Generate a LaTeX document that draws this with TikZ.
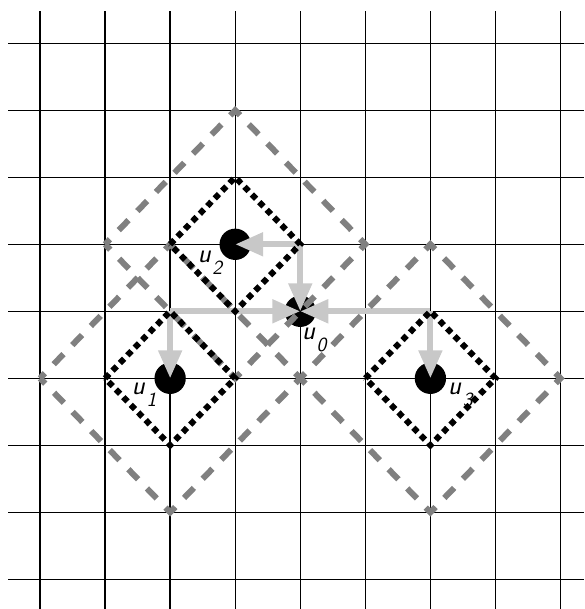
\documentclass[tikz,border=0pt]{standalone}
\usepackage{fontspec}
\usetikzlibrary{arrows.meta, positioning, calc}
\usepackage{xcolor}

\definecolor{arrowgray}{RGB}{200,200,200}
\definecolor{dashgray}{RGB}{128,128,128}

\newcommand{\ulbl}[1]{\textsl{u}\hspace{1pt}\raisebox{-9pt}{\fontsize{15}{15}\selectfont\slshape #1}}

\begin{document}
\begin{tikzpicture}[
  x=48.8pt, y=50.25pt,
  gridline/.style={black, line width=1pt},
  site/.style={circle, fill=black, minimum size=23.5pt, inner sep=0pt},
  push/.style={draw=arrowgray, line width=4.5pt,
    -{Triangle[length=21pt, width=17pt]}},
  outerbox/.style={draw=dashgray, line width=4.5pt,
    dash pattern=on 10.5pt off 9.5pt, dash phase=5.25pt},
  innerbox/.style={draw=black, line width=4.5pt,
    dash pattern=on 4.5pt off 3.5pt},
  lbl/.style={inner sep=0pt, font=\sffamily\fontsize{20}{22}\selectfont}
]
\useasboundingbox (-0.6148,-0.4433) rectangle (8.3615,8.6463);

% grid
\foreach \i in {0,...,8} {
  \draw[gridline] (-0.49,\i) -- (8.3615,\i);
  \draw[gridline] (\i,-0.4433) -- (\i,8.48);
}

% sites
\node[site] (u0) at (4,4) {};
\node[site] (u1) at (2,3) {};
\node[site] (u2) at (3,5) {};
\node[site] (u3) at (6,3) {};

\coordinate (c1) at (2,4);
\coordinate (c2) at (4,5);
\coordinate (c3) at (6,4);

% moves
\draw[push] (c2) -- (u2.center);
\draw[push] (c2) -- (u0.center);
\draw[push] (c1) -- (u0.center);
\draw[push] (c1) -- (u1.center);
\draw[push] (c3) -- (u0.center);
\draw[push] (c3) -- (u3.center);

% neighbourhoods
\foreach \u in {u1,u2,u3}
  \draw[outerbox] (\u.center) ++(-2,0) -- ++(2,2) -- ++(2,-2) -- ++(-2,-2) -- cycle;
\foreach \u in {u1,u2,u3}
  \draw[innerbox] (\u.center) ++(-1,0) -- ++(1,1) -- ++(1,-1) -- ++(-1,-1) -- cycle;

% labels
\node[lbl] (l0) at ($(u0)+(10.5pt,-21.75pt)$) {\ulbl{0}};
\node[lbl] (l1) at ($(u1)+(-19.5pt,-12pt)$) {\ulbl{1}};
\node[lbl] (l2) at ($(u2)+(-18.9pt,-14.1pt)$) {\ulbl{2}};
\node[lbl] (l3) at ($(u3)+(22.5pt,-12.75pt)$) {\ulbl{3}};

\end{tikzpicture}
\end{document}
